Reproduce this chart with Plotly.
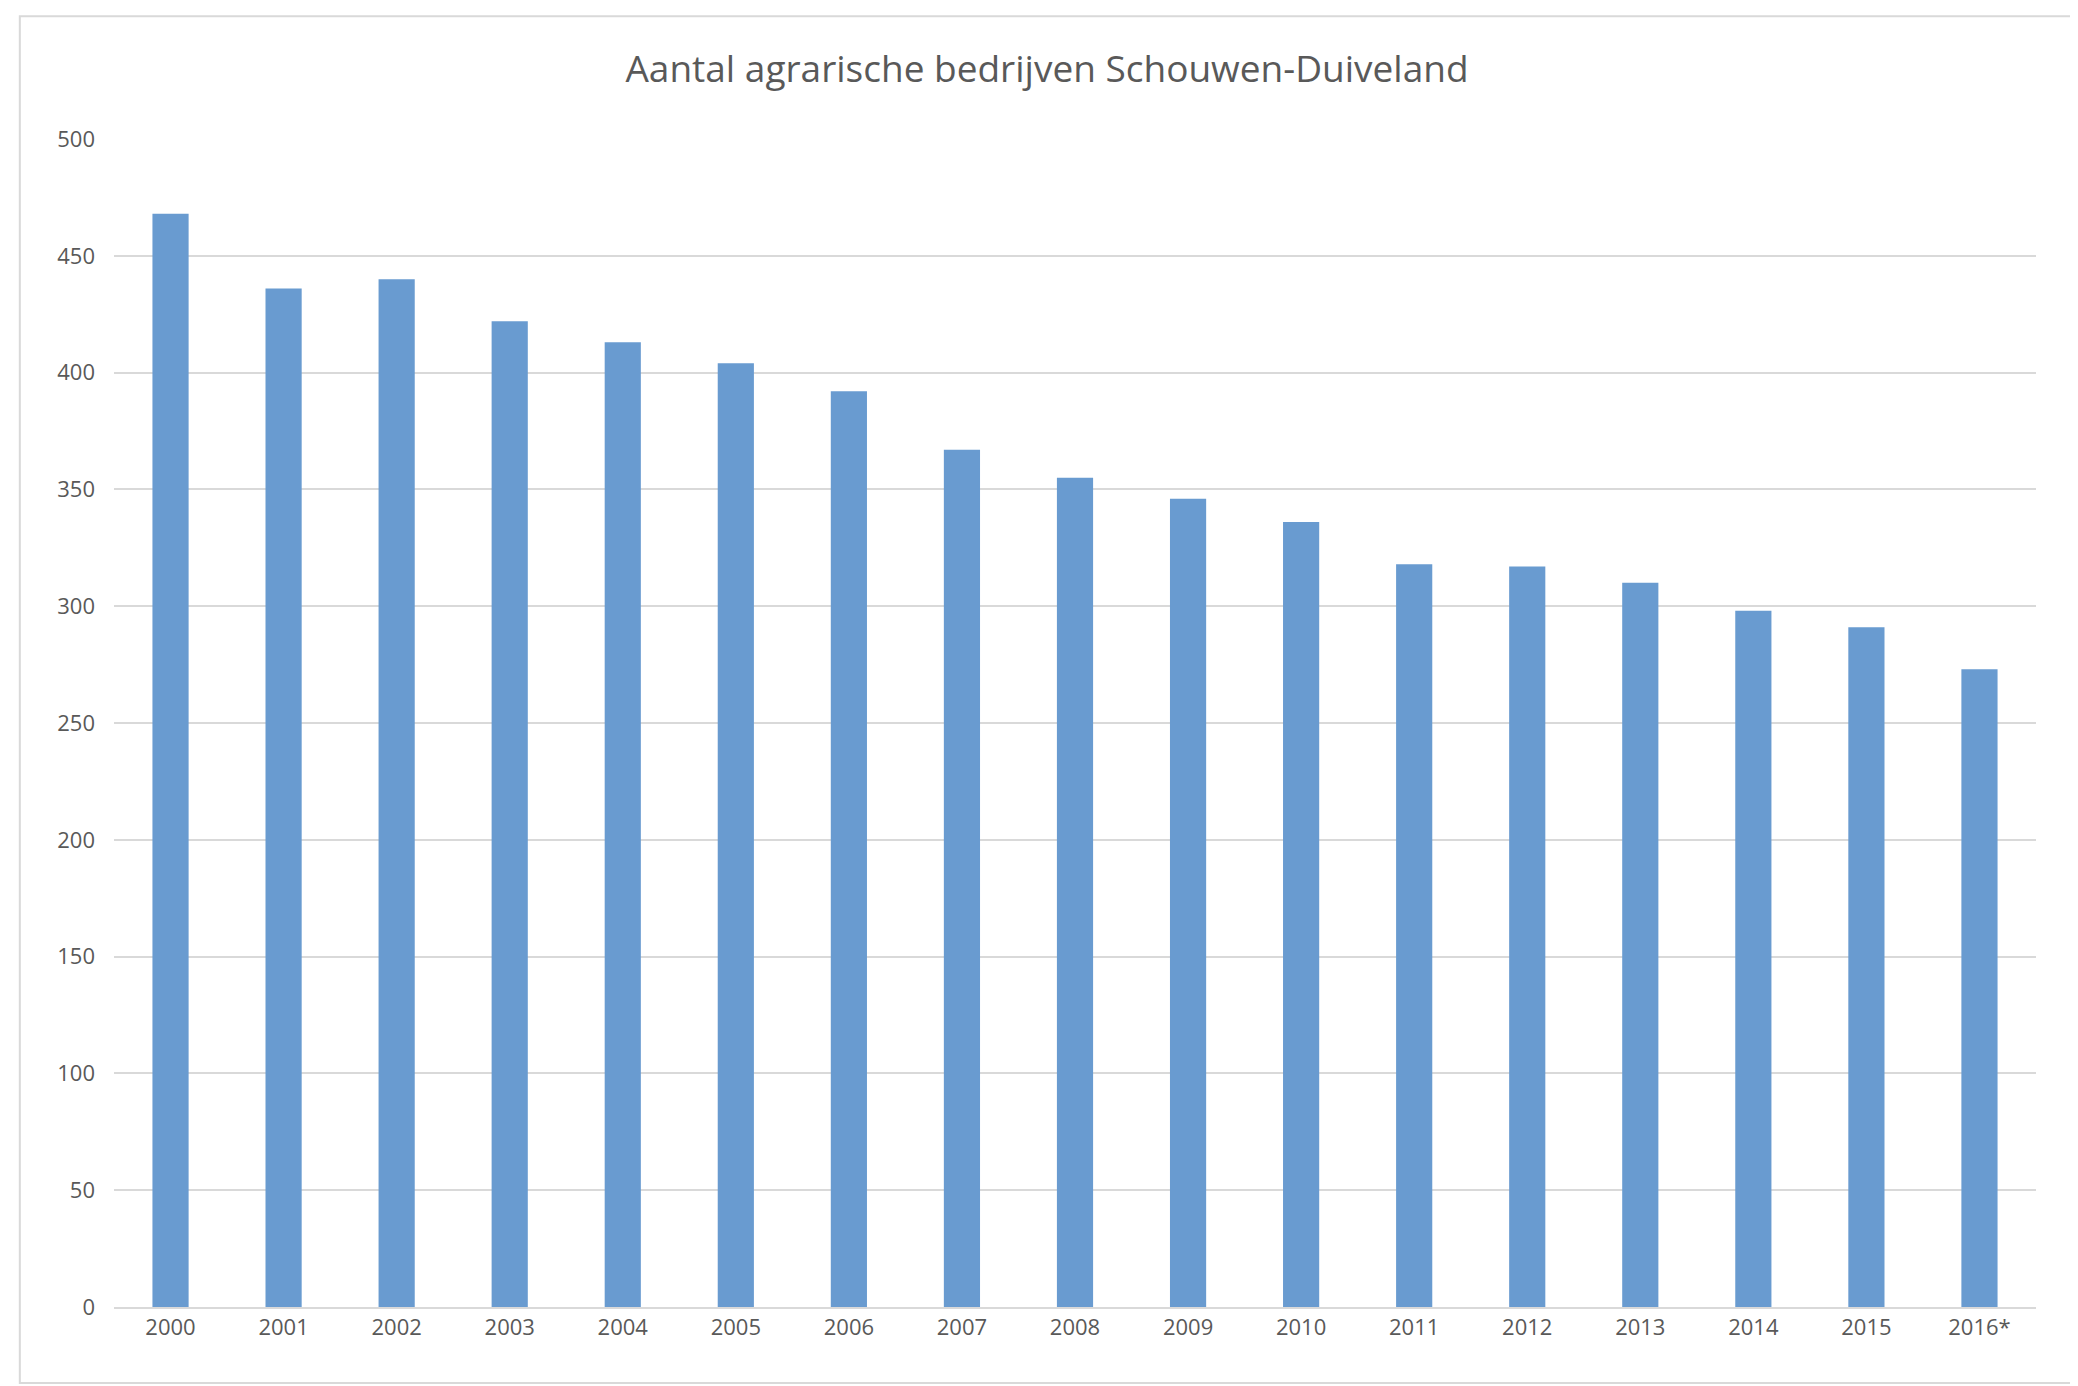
import plotly.graph_objects as go

years = ["2000", "2001", "2002", "2003", "2004", "2005", "2006", "2007", "2008",
         "2009", "2010", "2011", "2012", "2013", "2014", "2015", "2016*"]
bedrijven = [468, 436, 440, 422, 413, 404, 392, 367, 355,
             346, 336, 318, 317, 310, 298, 291, 273]

fig = go.Figure()
fig.add_trace(go.Bar(x=years, y=bedrijven, marker_color="#699bd0", marker_line_width=0))

fig.update_layout(
    width=2078, height=1386,
    paper_bgcolor="white", plot_bgcolor="white",
    font=dict(family="Open Sans, Lato, sans-serif", color="#595959", size=22),
    title=dict(text="Aantal agrarische bedrijven Schouwen-Duiveland",
               x=0.5, xanchor="center", y=0.965, font=dict(size=37, color="#595959")),
    margin=dict(l=106, r=50, t=131, b=87),
    bargap=0.68,
    showlegend=False,
    shapes=[dict(type="rect", xref="paper", yref="paper",
                 x0=-0.049, x1=1.02, y0=-0.065, y1=1.105,
                 line=dict(color="#d9d9d9", width=2))],
)
fig.update_xaxes(showgrid=False, showline=True, linecolor="#d9d9d9", linewidth=2,
                 ticks="", tickfont=dict(size=22))
fig.update_yaxes(range=[0, 500], dtick=50, gridcolor="#d9d9d9", gridwidth=1.5,
                 zeroline=False, ticks="", ticklabelstandoff=18, tickfont=dict(size=22))

fig.write_html("out.html")
